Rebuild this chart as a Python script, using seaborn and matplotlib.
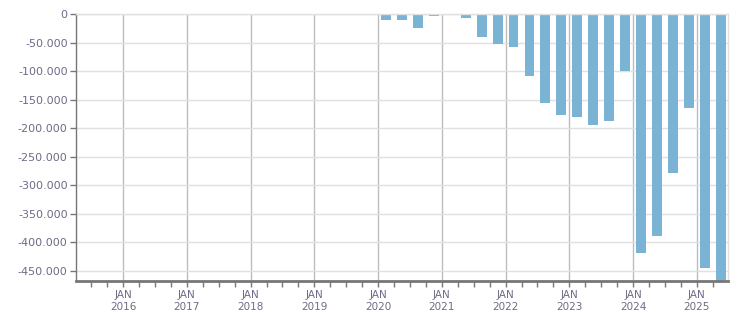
import pandas as pd
import seaborn as sns
import matplotlib.pyplot as plt
import numpy as np

quarters = ['2020Q1', '2020Q2', '2020Q3', '2020Q4',
            '2021Q1', '2021Q2', '2021Q3', '2021Q4',
            '2022Q1', '2022Q2', '2022Q3', '2022Q4',
            '2023Q1', '2023Q2', '2023Q3', '2023Q4',
            '2024Q1', '2024Q2', '2024Q3', '2024Q4',
            '2025Q1', '2025Q2']
values = [-10500, -10500, -24500, -3000,
          0, -7000, -40300, -52600,
          -58000, -108800, -156000, -177000,
          -181000, -195000, -188000, -100000,
          -419000, -389500, -279000, -165000,
          -445500, -480000]
years = list(range(2016, 2026))

# decimal year at the middle of each quarter
xpos = [int(q[:4]) + (int(q[-1]) - 1) * 0.25 + 0.125 for q in quarters]
data = pd.DataFrame({'x': xpos, 'val': values})

sns.set_style("white")
plt.rcParams['font.family'] = ['DejaVu Sans']

fig = plt.figure(figsize=(7.51, 3.13), dpi=100)
ax = fig.add_axes([76/751, 1 - 281/313, (728-76)/751, (281-14)/313])

sns.barplot(x='x', y='val', data=data, color='#7ab3d4', saturation=1,
            native_scale=True, width=0.62, linewidth=0, ax=ax, zorder=3)

txt = '#6f6a86'
ax.set_xlim(2015.26, 2025.49)
ax.set_ylim(-468400, 0)

yt = np.arange(0, -450001, -50000)
ax.set_yticks(yt)
ax.set_yticklabels(['0' if v == 0 else '{:,}'.format(v).replace(',', '.') for v in yt],
                   fontsize=8, color=txt)
ax.set_xticks(years)
ax.set_xticklabels(['JAN\n' + str(y) for y in years], fontsize=7.5, color=txt,
                   linespacing=1.25)
ax.set_xticks(np.arange(2015.5, 2025.5, 0.25), minor=True)

ax.grid(axis='y', color='#e0e0e0', lw=1, zorder=0)
ax.grid(axis='x', which='major', color='#bdbdbd', lw=1, zorder=1)
ax.tick_params(axis='x', which='both', direction='out', length=4, width=1,
               color='#777777', pad=2.5, bottom=True)
ax.tick_params(axis='y', direction='out', length=4, width=1, color='#777777',
               pad=2, left=True)

ax.set_xlabel('')
ax.set_ylabel('')
for s in ['top', 'right']:
    ax.spines[s].set_color('#e0e0e0')
    ax.spines[s].set_linewidth(1)
ax.spines['left'].set_color('#777777')
ax.spines['left'].set_linewidth(1)
ax.spines['bottom'].set_color('#777777')
ax.spines['bottom'].set_linewidth(2)
for s in ax.spines.values():
    s.set_zorder(5)

plt.savefig('out.png', dpi=100)
